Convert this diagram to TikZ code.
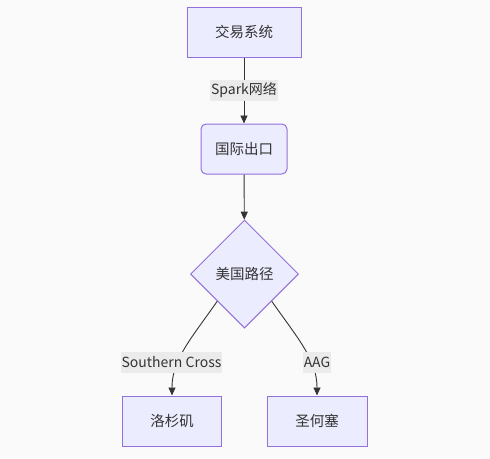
\documentclass[tikz,border=0pt]{standalone}
\usepackage{fontspec}
\setmainfont{Noto Sans CJK SC}
\usetikzlibrary{shapes.geometric,arrows.meta}
\definecolor{bgc}{HTML}{FAFAFA}
\definecolor{nodefill}{HTML}{ECECFF}
\definecolor{nodeline}{HTML}{9370DB}
\definecolor{edgec}{HTML}{333333}
\definecolor{lblbg}{HTML}{EBEBEB}
\definecolor{txt}{HTML}{333333}
\tikzset{
  box/.style={draw=nodeline, fill=nodefill, line width=1pt, text=txt, inner sep=0pt, font=\fontsize{14.5}{16}\selectfont},
  rbox/.style={box, rounded corners=5pt},
  dia/.style={box, diamond, minimum width=108pt, minimum height=108pt},
  lbl/.style={fill=lblbg, text=txt, inner xsep=1pt, inner ysep=0pt, minimum height=21pt, font=\fontsize{14}{16}\selectfont},
  edge/.style={draw=edgec, line width=0.9pt, -{Triangle[length=8pt,width=7pt]}},
}
\begin{document}
\begin{tikzpicture}[x=1pt,y=-1pt]
\fill[bgc] (0,0) rectangle (490,458);
\useasboundingbox (0,0) rectangle (490,458);
\node[box, minimum width=114pt, minimum height=50pt] (a) at (244,32) {交易系统};
\node[rbox, minimum width=86pt, minimum height=50pt] (b) at (244,149) {国际出口};
\node[dia] (c) at (244.5,274) {美国路径};
\node[box, minimum width=99pt, minimum height=50pt] (l) at (172,421) {洛杉矶};
\node[box, minimum width=100pt, minimum height=50pt] (r) at (317,421) {圣何塞};
\draw[edge] (a) -- (b);
\node[lbl] (la) at (244,90) {Spark网络};
\draw[edge] (b) -- (c);
\draw[edge] (c.south west) .. controls (190,340) and (172,360) .. (l.north);
\draw[edge] (c.south east) .. controls (299,340) and (317,360) .. (r.north);
\node[lbl] (ll) at (171.5,362) {Southern Cross};
\node[lbl] (lr) at (317,362) {AAG};
\end{tikzpicture}
\end{document}
